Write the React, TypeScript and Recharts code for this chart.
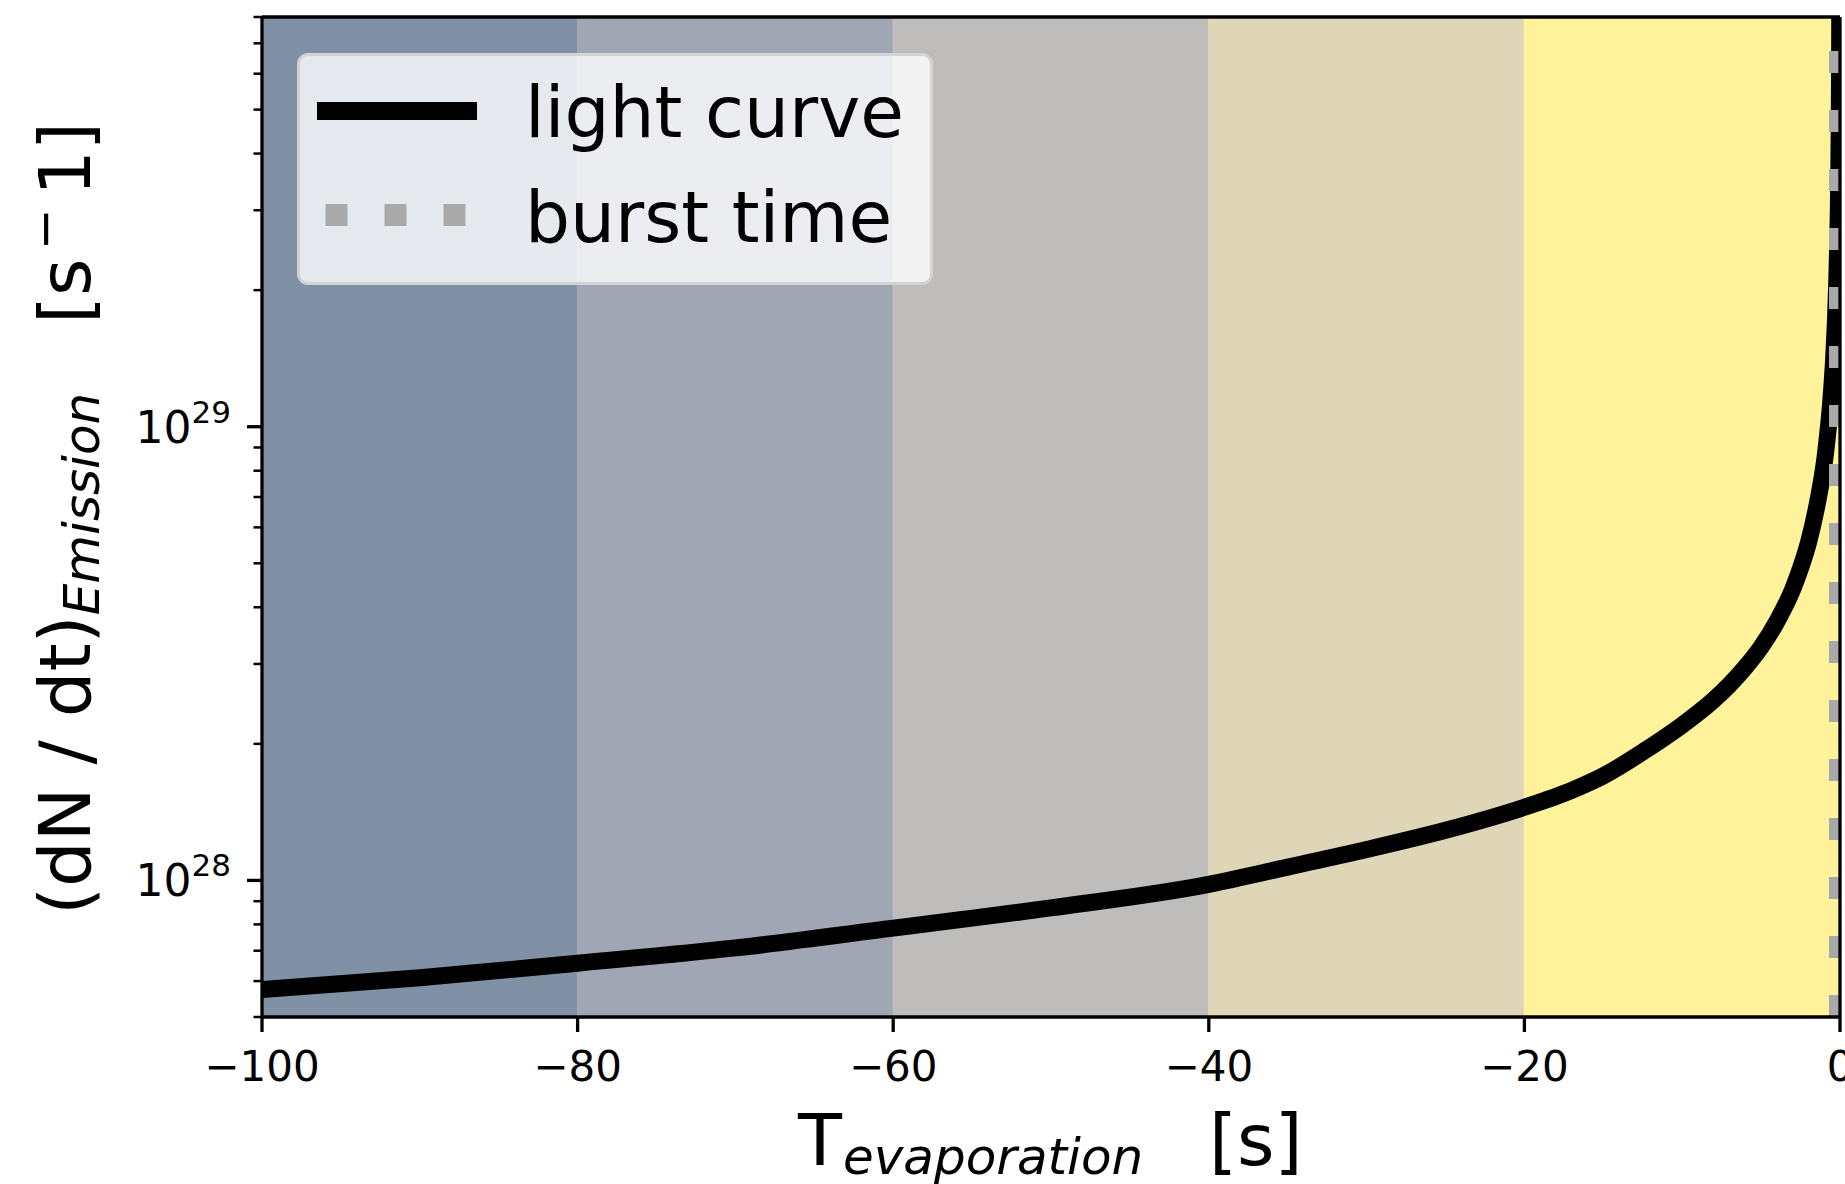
import React from 'react'
import {
  Legend,
  Line,
  LineChart,
  ReferenceArea,
  ReferenceLine,
  XAxis,
  YAxis,
} from 'recharts'

// time until evaporation [s] and the emission rate [1/s]
const T_EVAP = [
  -100, -90, -80, -70, -60, -50, -40, -35, -30, -25, -20, -17, -15, -12, -10,
  -8, -7, -6, -5, -4, -3, -2.5, -2, -1.5, -1.2, -1, -0.8, -0.6, -0.5, -0.4,
  -0.3, -0.2, -0.15, -0.1, -0.07, -0.05, -0.03, -0.02, -0.01,
]
const EMISSION = [
  5.75e27, 6.1e27, 6.57e27, 7.1e27, 7.85e27, 8.7e27, 9.8e27, 1.07e28, 1.17e28,
  1.29e28, 1.45e28, 1.58e28, 1.7e28, 1.97e28, 2.2e28, 2.5e28, 2.7e28, 2.95e28,
  3.27e28, 3.72e28, 4.38e28, 4.88e28, 5.55e28, 6.6e28, 7.5e28, 8.3e28, 9.5e28,
  1.12e29, 1.25e29, 1.42e29, 1.68e29, 2.12e29, 2.5e29, 3.1e29, 3.8e29, 4.6e29,
  6.0e29, 7.3e29, 1.1e30,
]

const BAND_EDGES = [-100, -80, -60, -40, -20, 0]
const BAND_COLORS = ['#8091a6', '#a1a6b5', '#bebdbc', '#ded6b7', '#fef39b']
const BURST_TIME = 0

const X_TICKS = [-100, -80, -60, -40, -20, 0]
const Y_MAJOR = [1e28, 1e29]
const Y_MINOR = [
  5e27, 6e27, 7e27, 8e27, 9e27, 2e28, 3e28, 4e28, 5e28, 6e28, 7e28, 8e28, 9e28,
  2e29, 3e29, 4e29, 5e29, 6e29, 7e29, 8e29,
]
const Y_TICKS = [...Y_MINOR, ...Y_MAJOR].sort((a, b) => a - b)

const LEGEND_LABELS = ['light curve', 'burst time']

const data = T_EVAP.map((t, i) => ({ t, rate: EMISSION[i] }))

const FONT = '"DejaVu Sans", sans-serif'
const W = 1900
const H = 1184
const LEFT = 262
const TOP = 17
const RIGHT = 1840
const BOTTOM = 1017
const SPINE = 3.3
const Y_AXIS_W = 60
const X_AXIS_H = 60

function YTick(props: any) {
  const { y, payload } = props
  const v = payload.value
  const major = Y_MAJOR.includes(v)
  const exp = Math.round(Math.log10(v))
  return (
    <g>
      <line
        x1={LEFT}
        x2={LEFT - (major ? 15 : 8.5)}
        y1={y}
        y2={y}
        stroke="#000"
        strokeWidth={major ? SPINE : 2.5}
      />
      {major && (
        <text x={231} y={y + 16} textAnchor="end" fontFamily={FONT} fontSize={44} fill="#000">
          <tspan>10</tspan>
          <tspan fontSize={31} dy={-20}>
            {exp}
          </tspan>
        </text>
      )}
    </g>
  )
}

function XTitle() {
  return (
    <text fontFamily={FONT} fontSize={72} fill="#000">
      <tspan x={798} y={1165}>T</tspan>
      <tspan x={843} y={1174} fontSize={50} fontStyle="italic">
        evaporation
      </tspan>
      <tspan x={1209} y={1165}>[s]</tspan>
    </text>
  )
}

function YTitle() {
  // rotated frame: x = -screenY, y = screenX
  return (
    <text transform="rotate(-90)" fontFamily={FONT} fontSize={72} fill="#000">
      <tspan x={-915} y={90}>(dN / dt)</tspan>
      <tspan fontSize={50} fontStyle="italic" dy={9}>
        Emission
      </tspan>
      <tspan x={-324} y={90}>[s</tspan>
      <tspan x={-250} y={62} fontSize={50}>−</tspan>
      <tspan x={-196} y={90}>1]</tspan>
    </text>
  )
}

function LegendBox() {
  return (
    <div
      style={{
        boxSizing: 'border-box',
        width: 636,
        height: 232,
        background: 'rgba(255,255,255,0.8)',
        border: '3px solid rgba(204,204,204,0.8)',
        borderRadius: 11,
      }}
    >
      <svg width={630} height={226} style={{ display: 'block' }}>
        <line x1={17} x2={177} y1={55} y2={55} stroke="#000" strokeWidth={18} />
        <text x={225} y={81} fontFamily={FONT} fontSize={71} fill="#000">
          {LEGEND_LABELS[0]}
        </text>
        <line
          x1={25.5}
          x2={166}
          y1={159}
          y2={159}
          stroke="#a9a9a9"
          strokeWidth={22}
          strokeDasharray="22 37"
        />
        <text x={225} y={186} fontFamily={FONT} fontSize={71} fill="#000">
          {LEGEND_LABELS[1]}
        </text>
      </svg>
    </div>
  )
}

export default function App() {
  return (
    <div
      style={{
        position: 'fixed',
        left: 0,
        top: 0,
        width: 1845,
        height: 1184,
        overflow: 'hidden',
        background: '#fff',
      }}
    >
      <LineChart
        width={W}
        height={H}
        data={data}
        margin={{
          top: TOP - 1,
          right: W - RIGHT - 1,
          bottom: H - BOTTOM - X_AXIS_H,
          left: LEFT - Y_AXIS_W,
        }}
      >
        {BAND_COLORS.map((c, i) => (
          <ReferenceArea
            key={c}
            x1={BAND_EDGES[i]}
            x2={BAND_EDGES[i + 1]}
            fill={c}
            fillOpacity={1}
            stroke={c}
            strokeWidth={1.5}
            ifOverflow="hidden"
          />
        ))}
        <Line
          dataKey="rate"
          name={LEGEND_LABELS[0]}
          type="monotone"
          stroke="#000"
          strokeWidth={17}
          dot={false}
          activeDot={false}
          isAnimationActive={false}
        />
        <ReferenceLine
          x={BURST_TIME}
          stroke="#a9a9a9"
          strokeWidth={22}
          strokeDasharray="22 37"
          ifOverflow="hidden"
        />
        <XAxis
          dataKey="t"
          type="number"
          domain={[-100, 0]}
          ticks={X_TICKS}
          interval={0}
          allowDataOverflow
          height={X_AXIS_H}
          tick={{ fontSize: 42, fill: '#000', fontFamily: FONT }}
          tickFormatter={(v: number) => String(v).replace('-', '−')}
          tickSize={15}
          tickMargin={19}
          tickLine={{ stroke: '#000', strokeWidth: SPINE }}
          axisLine={{ stroke: '#000', strokeWidth: SPINE }}
          label={<XTitle />}
        />
        <XAxis
          xAxisId="top"
          orientation="top"
          type="number"
          domain={[-100, 0]}
          height={1}
          tick={false}
          tickLine={false}
          axisLine={{ stroke: '#000', strokeWidth: SPINE }}
        />
        <YAxis
          type="number"
          scale="log"
          domain={[5e27, 8e29]}
          allowDataOverflow
          ticks={Y_TICKS}
          interval={0}
          width={Y_AXIS_W}
          tick={<YTick />}
          tickLine={false}
          axisLine={{ stroke: '#000', strokeWidth: SPINE }}
          label={<YTitle />}
        />
        <YAxis
          yAxisId="right"
          orientation="right"
          type="number"
          domain={[0, 1]}
          width={1}
          tick={false}
          tickLine={false}
          axisLine={{ stroke: '#000', strokeWidth: SPINE }}
        />
        <Legend
          layout="vertical"
          align="center"
          verticalAlign="middle"
          wrapperStyle={{ left: 297, top: 53, width: 636, height: 232 }}
          content={() => <LegendBox />}
        />
      </LineChart>
    </div>
  )
}
